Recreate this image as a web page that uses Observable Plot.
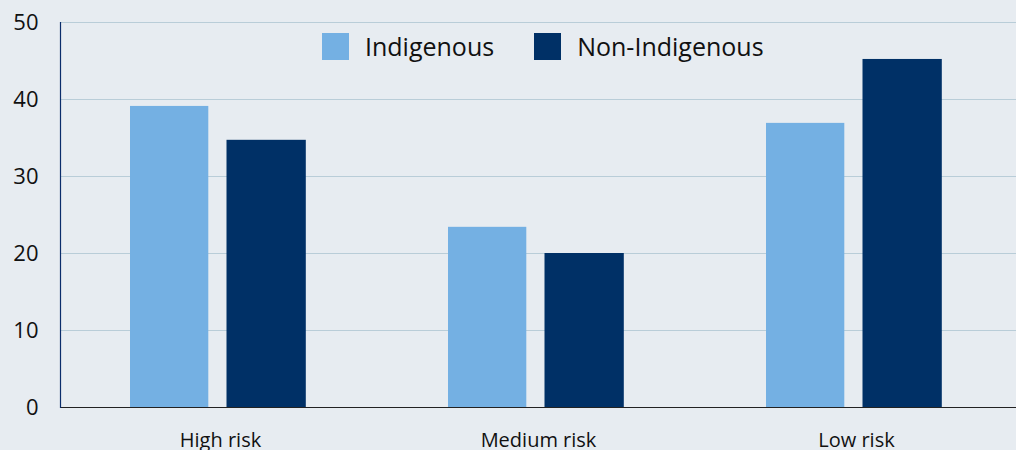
<!DOCTYPE html>
<html><head><meta charset="utf-8">
<script src="https://cdn.jsdelivr.net/npm/d3@7"></script>
<script src="https://cdn.jsdelivr.net/npm/@observablehq/plot@0.6"></script>
<style>
html,body{margin:0;padding:0;background:#e7ecf1;}
#wrap{position:relative;width:1016px;height:450px;overflow:hidden;font-family:"Open Sans",sans-serif;}
.legend{position:absolute;top:33px;left:322px;display:flex;align-items:center;font-size:25px;color:#111;line-height:27px;}
.legend .sw{width:27px;height:27px;margin-right:16px;}
.legend .item{display:flex;align-items:center;margin-right:40px;}
</style>
</head><body>
<div id="wrap"></div>
<script>
const categories = ["High risk", "Medium risk", "Low risk"];
const series = ["Indigenous", "Non-Indigenous"];
const indigenous = [39.1, 23.4, 36.9];
const nonIndigenous = [34.7, 20.0, 45.2];
const yTicks = [0, 10, 20, 30, 40, 50];
const colors = ["#74b0e3", "#003066"];

const indRows = categories.map((c, i) => ({risk: c, series: series[0], value: indigenous[i]}));
const nonRows = categories.map((c, i) => ({risk: c, series: series[1], value: nonIndigenous[i]}));

const chart = Plot.plot({
  width: 1016, height: 450,
  marginLeft: 60, marginRight: 0, marginTop: 22, marginBottom: 43,
  style: {background: "#e7ecf1", fontFamily: "'Open Sans', sans-serif", color: "#111"},
  x: {domain: categories, padding: 0, axis: null, label: null},
  y: {domain: [0, 50], axis: null, label: null},
  marks: [
    Plot.ruleY(yTicks, {stroke: "#b9cdd8", strokeWidth: 1.2}),
    Plot.barY(indRows, {x: "risk", y: "value", fill: colors[0], insetLeft: 69, insetRight: 170.7}),
    Plot.barY(nonRows, {x: "risk", y: "value", fill: colors[1], insetLeft: 165.5, insetRight: 73.2}),
    Plot.ruleY([0], {stroke: "#222", strokeWidth: 1.2}),
    Plot.frame({anchor: "left", stroke: "#0b2d6b", strokeWidth: 1.2}),
    Plot.axisY({ticks: yTicks, tickSize: 0, tickPadding: 22, fontSize: 22, fill: "#111", label: null}),
    Plot.axisX({tickSize: 0, tickPadding: 25, fontSize: 20, fill: "#111", label: null})
  ]
});
const wrap = document.getElementById("wrap");
wrap.appendChild(chart);

const legend = document.createElement("div");
legend.className = "legend";
series.forEach((s, i) => {
  const item = document.createElement("div");
  item.className = "item";
  const sw = document.createElement("div");
  sw.className = "sw";
  sw.style.background = colors[i];
  const t = document.createElement("span");
  t.textContent = s;
  item.appendChild(sw); item.appendChild(t);
  legend.appendChild(item);
});
wrap.appendChild(legend);
</script>
</body></html>
